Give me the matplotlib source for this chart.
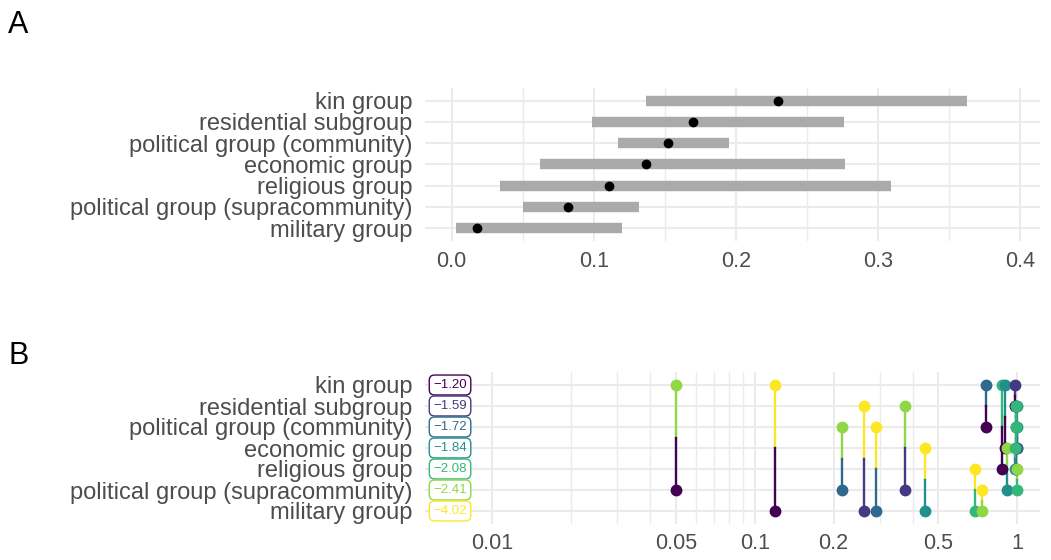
import matplotlib.pyplot as plt
import numpy as np

plt.rcParams['font.family'] = ['Liberation Sans', 'DejaVu Sans']

groups = ["kin group", "residential subgroup", "political group (community)",
          "economic group", "religious group", "political group (supracommunity)",
          "military group"]

# panel A: estimate with interval
est = [0.230, 0.170, 0.152, 0.137, 0.111, 0.082, 0.018]
lo = [0.137, 0.099, 0.117, 0.062, 0.034, 0.050, 0.003]
hi = [0.363, 0.276, 0.195, 0.277, 0.309, 0.132, 0.120]

# panel B: pairwise comparisons (row a vs row b) and p-values
box_labels = ["\u22121.20", "\u22121.59", "\u22121.72", "\u22121.84",
              "\u22122.08", "\u22122.41", "\u22124.02"]
pair_a = [0, 0, 2, 1, 2, 1, 3, 4, 5, 0, 0, 0, 3, 0, 1, 1, 1, 2, 2, 3, 4]
pair_b = [5, 6, 5, 6, 6, 5, 6, 6, 6, 2, 4, 3, 5, 1, 2, 3, 4, 3, 4, 4, 5]
pvals = [0.05, 0.12, 0.215, 0.262, 0.29, 0.373, 0.446, 0.69, 0.736, 0.764,
         0.88, 0.90, 0.918, 0.986, 0.995, 1.0, 0.99, 1.0, 0.995, 0.98, 1.0]

cols = ['#440154', '#443A83', '#31688E', '#21908C', '#35B779', '#8FD744', '#FDE725']
grid_c = '#ebebeb'
txt_c = '#4d4d4d'
rows = np.arange(len(groups))

fig = plt.figure(figsize=(10.51, 5.6), dpi=100)

# ---- panel A ----
axA = fig.add_axes([0.404, 0.570, 0.5855, 0.273])
axA.hlines(rows, lo, hi, color='#aaaaaa', lw=7.5, zorder=2)
axA.plot(est, rows, 'o', color='black', ms=6, zorder=3)
axA.set_xlim(-0.019, 0.414)
axA.set_ylim(6.6, -0.6)
axA.set_xticks([0.0, 0.1, 0.2, 0.3, 0.4])
axA.set_xticklabels(["0.0", "0.1", "0.2", "0.3", "0.4"])
axA.set_xticks([0.05, 0.15, 0.25, 0.35], minor=True)
axA.set_yticks(rows)
axA.set_yticklabels(groups)
axA.grid(True, which='major', color=grid_c, lw=1.5, zorder=0)
axA.grid(True, which='minor', axis='x', color=grid_c, lw=1.0, zorder=0)

# ---- panel B ----
axB = fig.add_axes([0.404, 0.065, 0.5855, 0.270])
axB.set_xscale('log')
for a, b, p in zip(pair_a, pair_b, pvals):
    mid = (a + b) / 2
    axB.plot([p, p], [a, mid], color=cols[b], lw=1.7, zorder=2)
    axB.plot([p, p], [mid, b], color=cols[a], lw=1.7, zorder=2)
    axB.plot(p, a, 'o', color=cols[b], ms=7.5, zorder=3)
    axB.plot(p, b, 'o', color=cols[a], ms=7.5, zorder=3)
for i, lab in enumerate(box_labels):
    axB.text(0.0069, i, lab, color=cols[i], fontsize=9.5, ha='center', va='center', zorder=4,
             bbox=dict(boxstyle='round,pad=0.3,rounding_size=0.4', fc='white', ec=cols[i], lw=1.0))
axB.set_xlim(0.00552, 1.223)
axB.set_ylim(6.6, -0.6)
xt = [0.01, 0.05, 0.1, 0.2, 0.5, 1]
axB.set_xticks(xt)
axB.set_xticklabels(["0.01", "0.05", "0.1", "0.2", "0.5", "1"])
axB.set_xticks([0.02, 0.03, 0.04, 0.06, 0.07, 0.08, 0.09, 0.3, 0.4], minor=True)
axB.xaxis.set_minor_formatter(plt.NullFormatter())
axB.set_yticks(rows)
axB.set_yticklabels(groups)
axB.grid(True, which='major', color=grid_c, lw=1.5, zorder=0)
axB.grid(True, which='minor', axis='x', color=grid_c, lw=1.0, zorder=0)

for ax in (axA, axB):
    for s in ax.spines.values():
        s.set_visible(False)
    ax.tick_params(axis='both', which='both', length=0, labelcolor=txt_c)
    ax.tick_params(axis='y', pad=9, labelsize=17)
    ax.tick_params(axis='x', pad=7, labelsize=15.5)
    ax.set_axisbelow(True)

fig.text(0.008, 0.955, "A", fontsize=22, va='center', ha='left')
fig.text(0.008, 0.365, "B", fontsize=22, va='center', ha='left')

fig.savefig('out.png', dpi=100, facecolor='white')
